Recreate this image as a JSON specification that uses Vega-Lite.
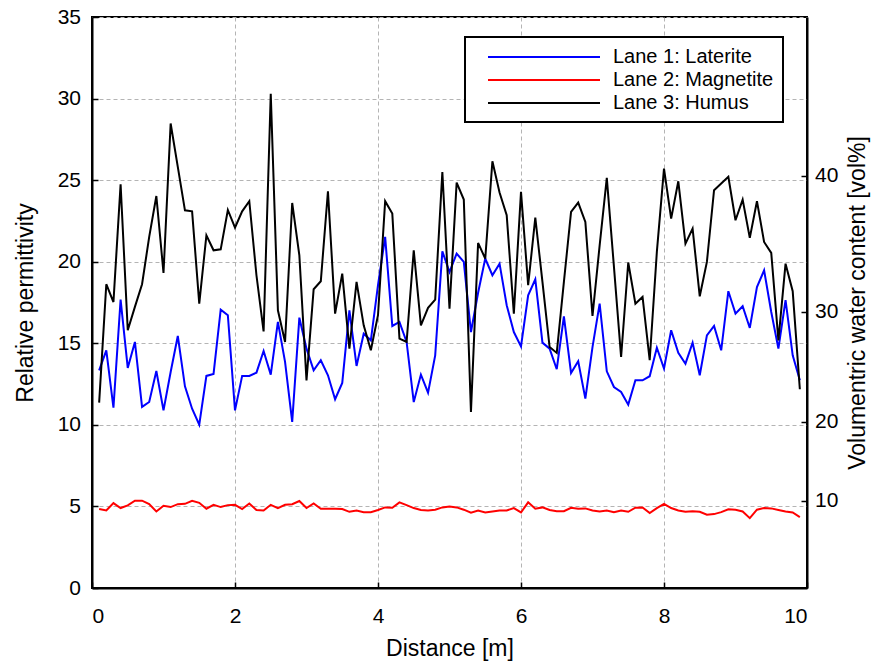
{
 "$schema": "https://vega.github.io/schema/vega-lite/v6.json",
 "width": 715,
 "height": 571,
 "autosize": {"type": "none"},
 "padding": {"left": 92, "top": 17, "right": 64, "bottom": 73},
 "background": "white",
 "config": {
  "font": "Liberation Sans",
  "view": {"stroke": "black", "strokeWidth": 2},
  "axis": {
   "domainColor": "black", "domainWidth": 2,
   "tickColor": "black", "tickWidth": 1.5, "tickSize": -6,
   "labelFont": "Liberation Sans", "labelFontSize": 21, "labelColor": "black",
   "titleFont": "Liberation Sans", "titleFontSize": 23, "titleFontWeight": "normal", "titleColor": "black",
   "gridColor": "#b4b4b4", "gridDash": [4, 3], "gridWidth": 1
  },
  "legend": {
   "orient": "none", "legendX": 373, "legendY": 20,
   "strokeColor": "black", "strokeWidth": 2, "fillColor": "white", "padding": 9, "cornerRadius": 0,
   "symbolType": "M-5.6,0H5.6", "symbolSize": 400, "symbolStrokeWidth": 2, "symbolOffset": 59,
   "labelOffset": 58, "labelFont": "Liberation Sans", "labelFontSize": 20, "labelColor": "black",
   "labelLimit": 400, "rowPadding": 2
  }
 },
 "data": {"values": [
  {"d":0.1,"laterite":13.34,"magnetite":4.84,"humus":11.36},
  {"d":0.2,"laterite":14.57,"magnetite":4.75,"humus":18.62},
  {"d":0.3,"laterite":11.05,"magnetite":5.20,"humus":17.53},
  {"d":0.4,"laterite":17.68,"magnetite":4.90,"humus":24.75},
  {"d":0.5,"laterite":13.49,"magnetite":5.06,"humus":15.80},
  {"d":0.6,"laterite":15.08,"magnetite":5.35,"humus":17.23},
  {"d":0.7,"laterite":11.10,"magnetite":5.35,"humus":18.62},
  {"d":0.8,"laterite":11.40,"magnetite":5.14,"humus":21.52},
  {"d":0.9,"laterite":13.30,"magnetite":4.69,"humus":24.03},
  {"d":1.0,"laterite":10.89,"magnetite":5.04,"humus":19.31},
  {"d":1.1,"laterite":13.24,"magnetite":4.96,"humus":28.47},
  {"d":1.2,"laterite":15.45,"magnetite":5.14,"humus":25.81},
  {"d":1.3,"laterite":12.36,"magnetite":5.16,"humus":23.15},
  {"d":1.4,"laterite":10.99,"magnetite":5.35,"humus":23.09},
  {"d":1.5,"laterite":10.01,"magnetite":5.22,"humus":17.43},
  {"d":1.6,"laterite":13.00,"magnetite":4.86,"humus":21.62},
  {"d":1.7,"laterite":13.12,"magnetite":5.10,"humus":20.70},
  {"d":1.8,"laterite":17.06,"magnetite":4.96,"humus":20.76},
  {"d":1.9,"laterite":16.72,"magnetite":5.08,"humus":23.17},
  {"d":2.0,"laterite":10.89,"magnetite":5.10,"humus":22.09},
  {"d":2.1,"laterite":13.00,"magnetite":4.84,"humus":23.09},
  {"d":2.2,"laterite":13.00,"magnetite":5.18,"humus":23.71},
  {"d":2.3,"laterite":13.20,"magnetite":4.78,"humus":19.17},
  {"d":2.4,"laterite":14.53,"magnetite":4.75,"humus":15.73},
  {"d":2.5,"laterite":13.08,"magnetite":5.10,"humus":30.30},
  {"d":2.6,"laterite":16.31,"magnetite":4.90,"humus":17.02},
  {"d":2.7,"laterite":13.86,"magnetite":5.10,"humus":15.08},
  {"d":2.8,"laterite":10.18,"magnetite":5.14,"humus":23.60},
  {"d":2.9,"laterite":16.57,"magnetite":5.33,"humus":20.39},
  {"d":3.0,"laterite":14.67,"magnetite":4.90,"humus":12.73},
  {"d":3.1,"laterite":13.34,"magnetite":5.18,"humus":18.31},
  {"d":3.2,"laterite":13.96,"magnetite":4.86,"humus":18.80},
  {"d":3.3,"laterite":13.04,"magnetite":4.86,"humus":24.32},
  {"d":3.4,"laterite":11.57,"magnetite":4.86,"humus":16.82},
  {"d":3.5,"laterite":12.57,"magnetite":4.84,"humus":19.27},
  {"d":3.6,"laterite":17.02,"magnetite":4.67,"humus":14.67},
  {"d":3.7,"laterite":13.61,"magnetite":4.75,"humus":18.76},
  {"d":3.8,"laterite":15.59,"magnetite":4.65,"humus":16.10},
  {"d":3.9,"laterite":15.18,"magnetite":4.65,"humus":14.57},
  {"d":4.0,"laterite":18.56,"magnetite":4.78,"humus":16.72},
  {"d":4.1,"laterite":21.52,"magnetite":4.94,"humus":23.71},
  {"d":4.2,"laterite":16.06,"magnetite":4.92,"humus":22.95},
  {"d":4.3,"laterite":16.31,"magnetite":5.25,"humus":15.29},
  {"d":4.4,"laterite":15.08,"magnetite":5.08,"humus":15.08},
  {"d":4.5,"laterite":11.40,"magnetite":4.90,"humus":20.70},
  {"d":4.6,"laterite":13.08,"magnetite":4.78,"humus":16.10},
  {"d":4.7,"laterite":11.97,"magnetite":4.75,"humus":17.17},
  {"d":4.8,"laterite":14.26,"magnetite":4.80,"humus":17.68},
  {"d":4.9,"laterite":20.64,"magnetite":4.94,"humus":25.50},
  {"d":5.0,"laterite":19.37,"magnetite":5.00,"humus":17.12},
  {"d":5.1,"laterite":20.50,"magnetite":4.94,"humus":24.85},
  {"d":5.2,"laterite":19.99,"magnetite":4.80,"humus":23.81},
  {"d":5.3,"laterite":15.69,"magnetite":4.61,"humus":10.79},
  {"d":5.4,"laterite":18.10,"magnetite":4.75,"humus":21.15},
  {"d":5.5,"laterite":20.19,"magnetite":4.63,"humus":20.19},
  {"d":5.6,"laterite":19.17,"magnetite":4.69,"humus":26.16},
  {"d":5.7,"laterite":19.88,"magnetite":4.75,"humus":24.24},
  {"d":5.8,"laterite":17.33,"magnetite":4.75,"humus":22.85},
  {"d":5.9,"laterite":15.69,"magnetite":4.90,"humus":16.82},
  {"d":6.0,"laterite":14.81,"magnetite":4.63,"humus":24.28},
  {"d":6.1,"laterite":17.94,"magnetite":5.25,"humus":18.56},
  {"d":6.2,"laterite":18.92,"magnetite":4.86,"humus":22.70},
  {"d":6.3,"laterite":15.04,"magnetite":4.94,"humus":18.76},
  {"d":6.4,"laterite":14.67,"magnetite":4.78,"humus":14.77},
  {"d":6.5,"laterite":13.41,"magnetite":4.71,"humus":14.41},
  {"d":6.6,"laterite":16.65,"magnetite":4.71,"humus":18.76},
  {"d":6.7,"laterite":13.18,"magnetite":4.92,"humus":23.05},
  {"d":6.8,"laterite":13.90,"magnetite":4.86,"humus":23.62},
  {"d":6.9,"laterite":11.61,"magnetite":4.88,"humus":22.44},
  {"d":7.0,"laterite":14.77,"magnetite":4.75,"humus":16.68},
  {"d":7.1,"laterite":17.43,"magnetite":4.69,"humus":21.00},
  {"d":7.2,"laterite":13.28,"magnetite":4.75,"humus":25.14},
  {"d":7.3,"laterite":12.32,"magnetite":4.65,"humus":19.68},
  {"d":7.4,"laterite":12.02,"magnetite":4.75,"humus":14.16},
  {"d":7.5,"laterite":11.24,"magnetite":4.67,"humus":19.95},
  {"d":7.6,"laterite":12.73,"magnetite":4.92,"humus":17.43},
  {"d":7.7,"laterite":12.73,"magnetite":4.94,"humus":17.84},
  {"d":7.8,"laterite":12.98,"magnetite":4.59,"humus":13.96},
  {"d":7.9,"laterite":14.73,"magnetite":4.90,"humus":20.60},
  {"d":8.0,"laterite":13.45,"magnetite":5.16,"humus":25.71},
  {"d":8.1,"laterite":15.80,"magnetite":4.90,"humus":22.64},
  {"d":8.2,"laterite":14.41,"magnetite":4.75,"humus":24.93},
  {"d":8.3,"laterite":13.75,"magnetite":4.67,"humus":21.11},
  {"d":8.4,"laterite":15.04,"magnetite":4.71,"humus":22.03},
  {"d":8.5,"laterite":13.04,"magnetite":4.67,"humus":17.88},
  {"d":8.6,"laterite":15.49,"magnetite":4.49,"humus":19.99},
  {"d":8.7,"laterite":16.06,"magnetite":4.53,"humus":24.38},
  {"d":8.8,"laterite":14.57,"magnetite":4.65,"humus":24.79},
  {"d":8.9,"laterite":18.19,"magnetite":4.82,"humus":25.20},
  {"d":9.0,"laterite":16.82,"magnetite":4.80,"humus":22.54},
  {"d":9.1,"laterite":17.27,"magnetite":4.69,"humus":23.81},
  {"d":9.2,"laterite":15.94,"magnetite":4.28,"humus":21.46},
  {"d":9.3,"laterite":18.45,"magnetite":4.80,"humus":23.71},
  {"d":9.4,"laterite":19.47,"magnetite":4.90,"humus":21.21},
  {"d":9.5,"laterite":16.92,"magnetite":4.88,"humus":20.54},
  {"d":9.6,"laterite":14.67,"magnetite":4.78,"humus":15.18},
  {"d":9.7,"laterite":17.64,"magnetite":4.69,"humus":19.88},
  {"d":9.8,"laterite":14.26,"magnetite":4.63,"humus":18.19},
  {"d":9.9,"laterite":12.73,"magnetite":4.35,"humus":12.18}
 ]},
 "transform": [{"fold": ["laterite", "magnetite", "humus"], "as": ["lane", "eps"]}],
 "encoding": {
  "x": {
   "field": "d", "type": "quantitative",
   "scale": {"domain": [0, 10], "nice": false},
   "axis": {"values": [0, 2, 4, 6, 8, 10], "title": "Distance [m]", "labelPadding": 23, "titlePadding": 11}
  },
  "color": {
   "field": "lane", "type": "nominal",
   "scale": {"domain": ["laterite", "magnetite", "humus"], "range": ["#0000ff", "#ff0000", "#000000"]},
   "legend": {
    "title": null,
    "labelExpr": "datum.value == 'laterite' ? 'Lane 1: Laterite' : datum.value == 'magnetite' ? 'Lane 2: Magnetite' : 'Lane 3: Humus'"
   }
  }
 },
 "layer": [
  {
   "transform": [{"filter": "datum.lane != 'humus'"}],
   "mark": {"type": "line", "strokeWidth": 2},
   "encoding": {
    "y": {
     "field": "eps", "type": "quantitative",
     "scale": {"domain": [0, 35], "nice": false},
     "axis": {"values": [0, 5, 10, 15, 20, 25, 30, 35], "title": "Relative permittivity", "labelPadding": 17.5, "titlePadding": 20}
    }
   }
  },
  {
   "transform": [{"filter": "datum.lane == 'humus'"}],
   "mark": {"type": "line", "strokeWidth": 2},
   "encoding": {
    "y": {
     "field": "eps", "type": "quantitative",
     "scale": {"domain": [0, 35], "nice": false},
     "axis": {
      "orient": "right", "grid": false,
      "values": [5.35, 10.2, 16.94, 25.26],
      "labelExpr": "datum.value < 7 ? '10' : datum.value < 13 ? '20' : datum.value < 20 ? '30' : '40'",
      "title": "Volumentric water content [vol%]", "titleAngle": -90,
      "labelPadding": 13.6, "titlePadding": 32
     }
    }
   }
  }
 ],
 "resolve": {"scale": {"y": "independent"}}
}
